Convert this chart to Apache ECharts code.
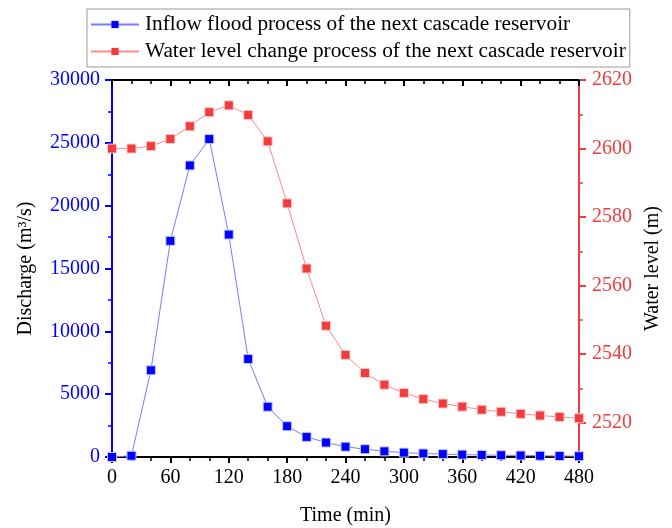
<!DOCTYPE html>
<html>
<head>
<meta charset="utf-8">
<script src="https://cdn.jsdelivr.net/npm/echarts@6/dist/echarts.min.js"></script>
<style>
  html, body { margin: 0; padding: 0; background: #fff; }
  #myChart { width: 672px; height: 528px; }
</style>
</head>
<body>
<div id="myChart"></div>
<script>
// time axis (min)
var timeData = [0, 20, 40, 60, 80, 100, 120, 140, 160, 180, 200, 220, 240, 260, 280, 300, 320, 340, 360, 380, 400, 420, 440, 460, 480];
// inflow flood process (m3/s)
var inflowData = [0, 100, 6900, 17200, 23200, 25300, 17700, 7800, 4000, 2450, 1600, 1150, 820, 620, 450, 350, 280, 230, 190, 160, 140, 120, 100, 80, 60];
// water level (m)
var levelData = [2600.0, 2600.0, 2600.7, 2602.8, 2606.5, 2610.6, 2612.6, 2609.8, 2602.1, 2584.0, 2565.0, 2548.3, 2539.8, 2534.5, 2531.1, 2528.7, 2526.9, 2525.6, 2524.7, 2523.8, 2523.2, 2522.6, 2522.1, 2521.7, 2521.3];
// right axis ticks
var levelMajorTicks = [2520, 2540, 2560, 2580, 2600, 2620];
var levelMinorTicks = [2510, 2530, 2550, 2570, 2590, 2610];

var FONT = "'Liberation Serif', 'Times New Roman', serif";
var BLUE = "#0000ff";
var RED = "#f03c3c";

function pairs (ys) {
  return timeData.map(function (t, i) { return [t, ys[i]]; });
}
// plain numbers, no thousands separator
function plain (v) {
  return String(v);
}

var myChart = echarts.init(document.getElementById("myChart"));
var option = {
  backgroundColor: "#fff",
  animation: false,
  textStyle: { fontFamily: FONT },
  legend: {
    orient: "vertical",
    left: 87,
    top: 9,
    padding: [5, 4, 5, 3],
    itemGap: 6,
    itemWidth: 48,
    itemHeight: 9,
    borderColor: "#999",
    borderWidth: 1,
    itemStyle: { borderWidth: 0 },
    textStyle: { fontFamily: FONT, fontSize: 21.3, color: "#000", padding: [0, 0, 0, 1] },
    data: [
      "Inflow flood process of the next cascade reservoir",
      "Water level change process of the next cascade reservoir"
    ]
  },
  grid: { left: 112, right: 93, top: 80, bottom: 71, outerBoundsMode: "none" },
  xAxis: [
    {
      type: "value",
      min: 0,
      max: 480,
      interval: 60,
      name: "Time (min)",
      nameLocation: "middle",
      nameGap: 49,
      nameTextStyle: { fontFamily: FONT, fontSize: 20, color: "#000" },
      axisLine: { onZero: false, lineStyle: { color: "#000", width: 2 } },
      axisTick: { length: 6, lineStyle: { color: "#000", width: 2 } },
      minorTick: { show: true, splitNumber: 3, length: 4, lineStyle: { color: "#000", width: 1.5 } },
      axisLabel: { fontFamily: FONT, fontSize: 20, color: "#000", margin: 11, formatter: plain },
      splitLine: { show: false }
    },
    {
      // top frame
      type: "value",
      position: "top",
      min: 0,
      max: 480,
      interval: 60,
      axisLine: { onZero: false, lineStyle: { color: "#000", width: 2 } },
      axisTick: { inside: true, length: 6, lineStyle: { color: "#000", width: 2 } },
      minorTick: { show: true, splitNumber: 3, length: 4, lineStyle: { color: "#000", width: 1.5 } },
      axisLabel: { show: false },
      splitLine: { show: false }
    }
  ],
  yAxis: [
    {
      type: "value",
      min: 0,
      max: 30000,
      interval: 5000,
      name: "Discharge (m\u00b3/s)",
      nameLocation: "middle",
      nameGap: 76,
      nameTextStyle: { fontFamily: FONT, fontSize: 20, color: "#000" },
      axisLine: { show: true, onZero: false, lineStyle: { color: BLUE, width: 2 } },
      axisTick: { show: true, length: 7, lineStyle: { color: BLUE, width: 2 } },
      minorTick: { show: true, splitNumber: 2, length: 4, lineStyle: { color: BLUE, width: 1.5 } },
      axisLabel: { fontFamily: FONT, fontSize: 20, color: BLUE, margin: 12, formatter: plain },
      splitLine: { show: false }
    },
    {
      type: "value",
      position: "right",
      min: 2510,
      max: 2620,
      name: "Water level (m)",
      nameLocation: "middle",
      nameGap: 55,
      nameTextStyle: { fontFamily: FONT, fontSize: 20, color: "#000" },
      axisLine: { show: true, onZero: false, lineStyle: { color: RED, width: 2 } },
      axisTick: { show: true, length: 7, customValues: levelMajorTicks, lineStyle: { color: RED, width: 2 } },
      axisLabel: { fontFamily: FONT, fontSize: 20, color: RED, margin: 13, customValues: levelMajorTicks, formatter: plain },
      splitLine: { show: false }
    },
    {
      // minor ticks of the water level axis
      type: "value",
      position: "right",
      min: 2510,
      max: 2620,
      axisLine: { show: false, onZero: false },
      axisTick: { show: true, length: 4, customValues: levelMinorTicks, lineStyle: { color: RED, width: 1.5 } },
      axisLabel: { show: false },
      splitLine: { show: false }
    }
  ],
  series: [
    {
      name: "Inflow flood process of the next cascade reservoir",
      type: "line",
      xAxisIndex: 0,
      yAxisIndex: 0,
      data: pairs(inflowData),
      symbol: "rect",
      symbolSize: 9,
      lineStyle: { color: "#7a7aff", width: 1 },
      itemStyle: { color: BLUE, borderColor: "#c8c8ff", borderWidth: 1 }
    },
    {
      name: "Water level change process of the next cascade reservoir",
      type: "line",
      xAxisIndex: 0,
      yAxisIndex: 1,
      data: pairs(levelData),
      symbol: "rect",
      symbolSize: 9,
      lineStyle: { color: "#ff8a8a", width: 1 },
      itemStyle: { color: RED, borderColor: "#ffc8c8", borderWidth: 1 }
    }
  ]
};
myChart.setOption(option);
</script>
</body>
</html>
